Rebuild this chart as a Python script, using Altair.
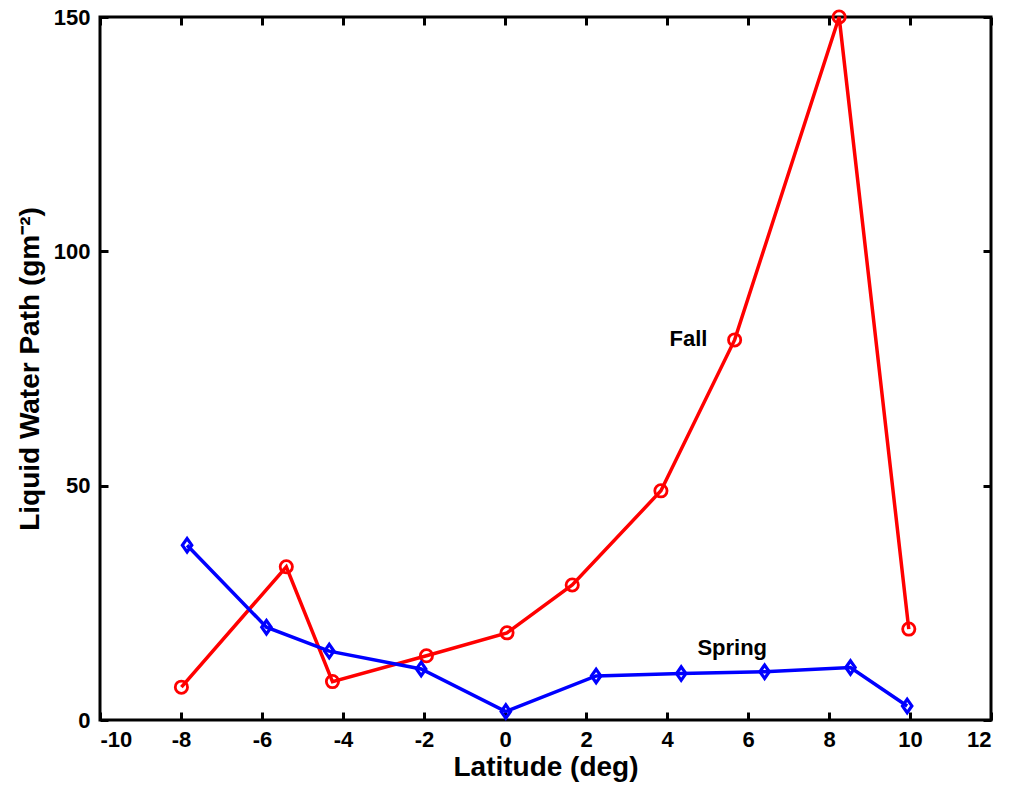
import altair as alt
import pandas as pd

# ---- data ----
fall_lat = [-7.99, -5.40, -4.26, -1.94, 0.05, 1.66, 3.85, 5.67, 8.25, 9.97]
fall_lwp = [7.0, 32.7, 8.2, 13.7, 18.6, 28.8, 48.9, 81.1, 150.0, 19.4]
spring_lat = [-7.85, -5.89, -4.34, -2.07, 0.02, 2.25, 4.35, 6.41, 8.53, 9.93]
spring_lwp = [37.3, 19.8, 14.7, 10.9, 1.8, 9.4, 9.9, 10.3, 11.2, 3.0]
x_ticks = [-10, -8, -6, -4, -2, 0, 2, 4, 6, 8, 10, 12]
y_ticks = [0, 50, 100, 150]
label_text = ["Fall", "Spring"]
label_lat = [4.53, 5.61]
label_lwp = [81.3, 15.4]

fall = pd.DataFrame({"lat": fall_lat, "lwp": fall_lwp})
spring = pd.DataFrame({"lat": spring_lat, "lwp": spring_lwp})
labels = pd.DataFrame({"lat": label_lat, "lwp": label_lwp, "txt": label_text})

FONT = "Liberation Sans"
xs = alt.Scale(domain=[-10, 12], nice=False, zero=False)
ys = alt.Scale(domain=[0, 150], nice=False, zero=False)

common = dict(grid=False, domain=False, ticks=True, tickSize=8, tickWidth=3,
              tickColor="black", offset=-8,
              labelFont=FONT, labelFontSize=22, labelFontWeight="bold", labelColor="black",
              labelExpr="toString(datum.value)",
              titleFont=FONT, titleFontSize=28, titleFontWeight="bold", titleColor="black")

x_bottom = alt.Axis(orient="bottom", values=x_ticks, labelPadding=9,
                    titlePadding=3, **common)
y_left = alt.Axis(orient="left", values=y_ticks, labelPadding=10,
                  titlePadding=9, **common)
x_top = alt.Axis(orient="top", values=x_ticks, labels=False, **common)
y_right = alt.Axis(orient="right", values=y_ticks, labels=False, **common)

axes_main = alt.Chart(fall).mark_point(opacity=0).encode(
    x=alt.X("lat:Q", scale=xs, axis=x_bottom, title="Latitude (deg)"),
    y=alt.Y("lwp:Q", scale=ys, axis=y_left, title="Liquid Water Path (gm\u207b\u00b2)"),
)
axes_box = alt.Chart(fall).mark_point(opacity=0).encode(
    x=alt.X("lat:Q", axis=x_top, title=""),
    y=alt.Y("lwp:Q", axis=y_right, title=""),
)

def xy():
    return dict(x=alt.X("lat:Q", axis=None), y=alt.Y("lwp:Q", axis=None))

fall_line = alt.Chart(fall).mark_line(color="#ff0000", strokeWidth=3.5).encode(**xy())
fall_pts = alt.Chart(fall).mark_point(shape="circle", filled=False, color="#ff0000",
                                      size=150, strokeWidth=2.8, opacity=1).encode(**xy())
spring_line = alt.Chart(spring).mark_line(color="#0000ff", strokeWidth=3.5).encode(**xy())
spring_pts = alt.Chart(spring).mark_point(shape="M-0.7,0L0,-1L0.7,0L0,1Z", filled=False,
                                          color="#0000ff", size=180, strokeWidth=3.2,
                                          opacity=1).encode(**xy())
texts = alt.Chart(labels).mark_text(font=FONT, fontSize=22, fontWeight="bold",
                                    color="black").encode(
    x=alt.X("lat:Q", axis=None), y=alt.Y("lwp:Q", axis=None), text="txt:N")

chart = alt.layer(axes_main, axes_box, fall_line, fall_pts, spring_line, spring_pts, texts).resolve_axis(
    x="independent", y="independent"
).properties(
    width=891, height=703,
    autosize=alt.AutoSizeParams(type="none"),
    padding={"left": 100, "top": 17, "right": 21, "bottom": 72},
    background="white",
).configure_view(stroke="black", strokeWidth=3)

chart.save("out.html", embed_options={"renderer": "svg", "actions": False})
